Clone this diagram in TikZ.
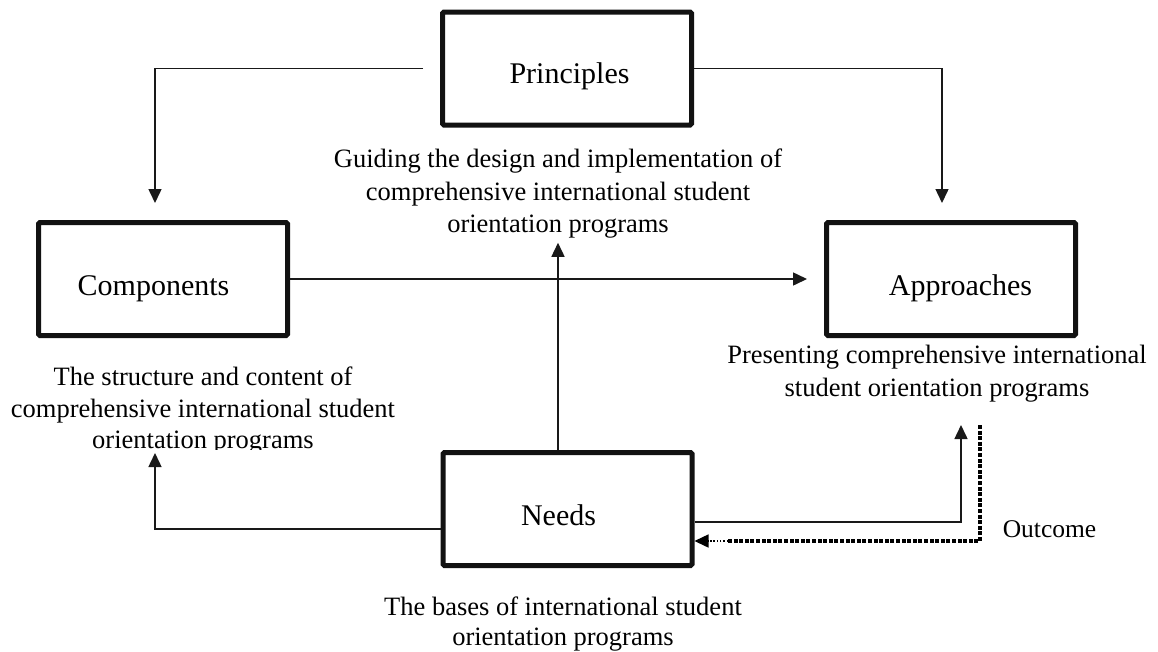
\documentclass[tikz,border=0pt]{standalone}
\usepackage{fontspec}
\setmainfont{Liberation Serif}
\usetikzlibrary{arrows.meta}
\begin{document}
\begin{tikzpicture}[x=1pt,y=-1pt,
  cbox/.style={draw=black!93,line width=5pt,rounded corners=1.5pt,minimum width=249pt,minimum height=113pt,inner sep=0pt},
  lbl/.style={font=\fontsize{30}{36}\selectfont,inner sep=0pt,anchor=base},
  captxt/.style={font=\fontsize{26.5}{32.5}\selectfont,align=center,inner sep=0pt,anchor=north},
  conn/.style={line width=1.5pt,draw=black!90,-{Triangle[length=14pt,width=13pt]}},
  outdash/.style={line width=3.4pt,draw=black,dash pattern=on 4pt off 1.6pt},
  outdot/.style={line width=1.5pt,draw=black,dash pattern=on 1.5pt off 1.8pt,-{Triangle[length=14pt,width=13pt]}}
]
\useasboundingbox[fill=white] (0,0) rectangle (1158,651);

% boxes
\node[cbox] (P) at (567,68.5) {};
\node[cbox] (C) at (163,279) {};
\node[cbox] (A) at (951,279) {};
\node[cbox] (N) at (567.5,509) {};

% box labels
\node[lbl] (Pt) at (569.5,83) {Principles};
\node[lbl] (Ct) at (153.5,295) {Components};
\node[lbl] (At) at (960.5,295) {Approaches};
\node[lbl] (Nt) at (558.5,525) {Needs};

% captions
\node[captxt] (G) at (558,149) {Guiding the design and implementation of\\comprehensive international student\\orientation programs};
\begin{scope}
\clip (0,300) rectangle (450,449);
\node[captxt,font=\fontsize{26.5}{31.5}\selectfont] (CC) at (203,367) {The structure and content of\\comprehensive international student\\orientation programs};
\end{scope}
\node[captxt] (AC) at (937,345) {Presenting comprehensive international\\student orientation programs};
\node[captxt,font=\fontsize{26.5}{30}\selectfont] (NC) at (563,597) {The bases of international student\\orientation programs};
\node[font=\fontsize{25.5}{30}\selectfont,inner sep=0pt,anchor=base] (O) at (1049.5,537) {Outcome};

% free ends
\coordinate (cin) at (155,453);
\coordinate (ain) at (961,425);
\coordinate (oin) at (980,425);
\coordinate (dsw) at (728,541);

% connectors
\draw[conn,shorten >=17pt] ([xshift=-17pt]P.west) -| ([xshift=-8pt]C.north);
\draw[conn,shorten >=17pt] (P.east) -| ([xshift=-9pt]A.north);
\draw[conn,shorten >=17pt] (C.east) -- (A.west);
\draw[conn,shorten >=4pt] ([xshift=-9.5pt]N.north) -- ([xshift=-9.5pt]N.north |- G.south);
\draw[conn] ([yshift=-20pt]N.west) -| (cin);
\draw[conn] ([yshift=-13pt]N.east) -| (ain);
\draw[outdash] (oin) |- (dsw);
\draw[outdot] (dsw) -- ([yshift=-32pt]N.east);
\end{tikzpicture}
\end{document}
